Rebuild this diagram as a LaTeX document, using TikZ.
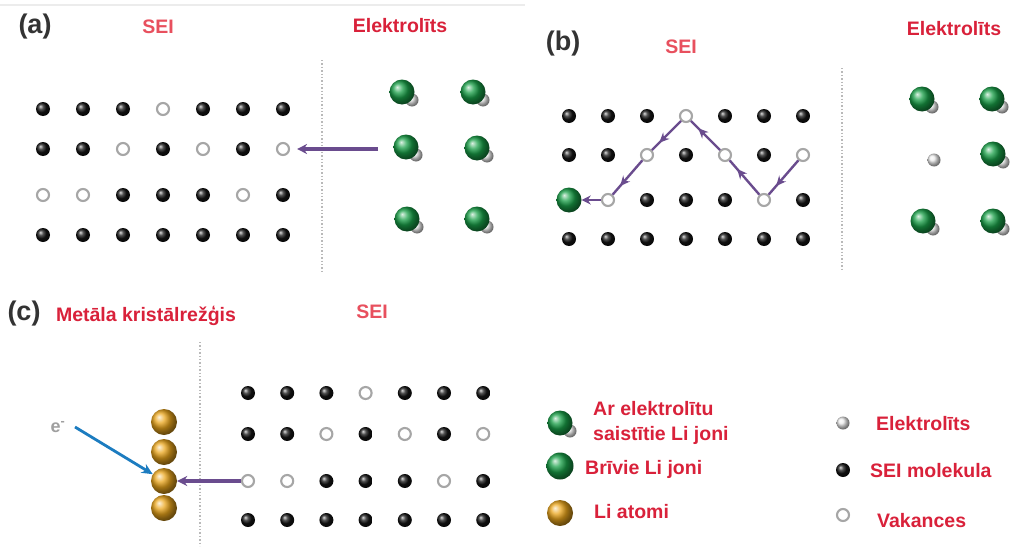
\documentclass[tikz,border=0pt]{standalone}
\usepackage{fontspec}
\setmainfont{Liberation Sans}
\usetikzlibrary{arrows.meta,decorations.markings}

\definecolor{labelred}{HTML}{D9213A}
\definecolor{seired}{HTML}{E8505E}
\definecolor{pathpurple}{HTML}{6A4C8E}
\definecolor{ebblue}{HTML}{1C7CC0}
\definecolor{ligreen}{HTML}{19A048}
\definecolor{ligold}{HTML}{EBA61C}

\tikzset{
  seidot/.style={circle,inner sep=0pt,minimum size=14pt,ball color=black!92},
  vac/.style={circle,inner sep=0pt,minimum size=12pt,draw=gray!70,line width=2.1pt,fill=white},
  liion/.style={circle,inner sep=0pt,minimum size=25pt,ball color=ligreen},
  elball/.style={circle,inner sep=0pt,minimum size=13pt,ball color=gray!15},
  liatom/.style={circle,inner sep=0pt,minimum size=26pt,ball color=ligold},
  lbl/.style={font=\fontsize{19.5}{22}\selectfont\bfseries,text=labelred,inner sep=0pt,anchor=base},
  seilbl/.style={lbl,text=seired},
  leglbl/.style={lbl,anchor=base west},
  panel/.style={font=\fontsize{27}{30}\selectfont\bfseries,text=black!80,inner sep=0pt,anchor=base},
  dline/.style={gray!55,dotted,line width=1.4pt},
  parrow/.style={pathpurple,line width=3.2pt,-{Stealth[length=10pt,width=10pt]}},
  hop/.style={pathpurple,line width=2.4pt,postaction={decorate},
    decoration={markings,mark=at position 0.75 with {\arrow{Stealth[length=10pt,width=9pt]}}}},
  hopend/.style={pathpurple,line width=2.4pt,-{Stealth[length=9pt,width=9pt]}},
  barrow/.style={ebblue,line width=2.8pt,-{Stealth[length=11pt,width=10pt]}}
}

% one row of the SEI lattice: prefix, row, y, first x, spacing, site types
\newcommand\latrow[6]{%
  \foreach \t [count=\c] in {#6} {\node[\t] (#1-#2-\c) at ({#4+(\c-1)*#5},#3) {};}}
% Li ion bound to an electrolyte molecule
\newcommand\elmol[3]{%
  \node[elball] (#1w) at (#2+10,#3+8) {};
  \node[liion] (#1) at (#2,#3) {};}

\begin{document}
\begin{tikzpicture}[x=1pt,y=-1pt]
\path[use as bounding box,fill=white] (0,0) rectangle (1017,546);
\draw[gray!15,line width=1.5pt] (0,5) -- (525,5);

% ---------- (a) ----------
\node[panel] (pa) at (35,33) {(a)};
\node[seilbl] (seia) at (158,33) {SEI};
\node[lbl] (ela) at (400,32) {Elektrolīts};
\coordinate (da1) at (322,60); \coordinate (da2) at (322,272);
\draw[dline] (da1) -- (da2);
\latrow{a}{1}{109}{43}{40}{seidot,seidot,seidot,vac,seidot,seidot,seidot}
\latrow{a}{2}{149}{43}{40}{seidot,seidot,vac,seidot,vac,seidot,vac}
\latrow{a}{3}{195}{43}{40}{vac,vac,seidot,seidot,seidot,vac,seidot}
\latrow{a}{4}{235}{43}{40}{seidot,seidot,seidot,seidot,seidot,seidot,seidot}
\elmol{ma1}{402}{92}\elmol{ma2}{473}{92}
\elmol{ma3}{406}{147}\elmol{ma4}{477}{148}
\elmol{ma5}{407}{219}\elmol{ma6}{477}{219}
\coordinate (a-src) at (378,149);
\draw[parrow,shorten >=7pt] (a-src) -- (a-2-7);

% ---------- (b) ----------
\node[panel] (pb) at (563,50) {(b)};
\node[seilbl] (seib) at (681,53) {SEI};
\node[lbl] (elb) at (954,35) {Elektrolīts};
\coordinate (db1) at (842,68); \coordinate (db2) at (842,270);
\draw[dline] (db1) -- (db2);
\latrow{b}{1}{116}{569}{39}{seidot,seidot,seidot,vac,seidot,seidot,seidot}
\latrow{b}{2}{155}{569}{39}{seidot,seidot,vac,seidot,vac,seidot,vac}
\latrow{b}{3}{200}{569}{39}{liion,vac,seidot,seidot,seidot,vac,seidot}
\latrow{b}{4}{239}{569}{39}{seidot,seidot,seidot,seidot,seidot,seidot,seidot}
\draw[hop] (b-2-7) -- (b-3-6);
\draw[hop] (b-3-6) -- (b-2-5);
\draw[hop] (b-2-5) -- (b-1-4);
\draw[hop] (b-1-4) -- (b-2-3);
\draw[hop] (b-2-3) -- (b-3-2);
\draw[hopend] (b-3-2) -- (b-3-1);
\elmol{mb1}{922}{99}\elmol{mb2}{992}{99}
\node[elball] (mb3w) at (934,160) {};
\elmol{mb4}{993}{154}
\elmol{mb5}{923}{221}\elmol{mb6}{993}{221}

% ---------- (c) ----------
\node[panel] (pc) at (24,320) {(c)};
\node[lbl] (metal) at (146,321) {Metāla kristālrežģis};
\node[seilbl] (seic) at (372,318) {SEI};
\coordinate (dc1) at (200,342); \coordinate (dc2) at (200,546);
\draw[dline] (dc1) -- (dc2);
\node[liatom] (au1) at (164,422) {};
\node[liatom] (au2) at (164,452) {};
\node[liatom] (au4) at (164,508) {};
\node[liatom] (au3) at (164,481) {};
\latrow{c}{1}{393}{248}{39.2}{seidot,seidot,seidot,vac,seidot,seidot,seidot}
\latrow{c}{2}{434}{248}{39.2}{seidot,seidot,vac,seidot,vac,seidot,vac}
\latrow{c}{3}{481}{248}{39.2}{vac,vac,seidot,seidot,seidot,vac,seidot}
\latrow{c}{4}{520}{248}{39.2}{seidot,seidot,seidot,seidot,seidot,seidot,seidot}
\draw[parrow] (c-3-1) -- (au3);
\node[font=\fontsize{18}{20}\selectfont\bfseries,text=gray!75,inner sep=0pt] (em) at (58,427) {e\textsuperscript{-}};
\coordinate (e-tail) at (75,427);
\draw[barrow] (e-tail) -- (au3);

% ---------- legend ----------
\elmol{leg1}{560}{423}
\node[leglbl] (t1) at (593,415) {Ar elektrolītu};
\node[leglbl] (t1b) at (593,440) {saistītie Li joni};
\node[liion,minimum size=27pt] (leg2) at (560,466) {};
\node[leglbl] (t2) at (585,474) {Brīvie Li joni};
\node[liatom] (leg3) at (560,513) {};
\node[leglbl] (t3) at (594,518) {Li atomi};
\node[elball] (leg4) at (843,423) {};
\node[leglbl] (t4) at (876,430) {Elektrolīts};
\node[seidot] (leg5) at (843,470) {};
\node[leglbl] (t5) at (870,477) {SEI molekula};
\node[vac] (leg6) at (843,515) {};
\node[leglbl] (t6) at (877,527) {Vakances};
\end{tikzpicture}
\end{document}
